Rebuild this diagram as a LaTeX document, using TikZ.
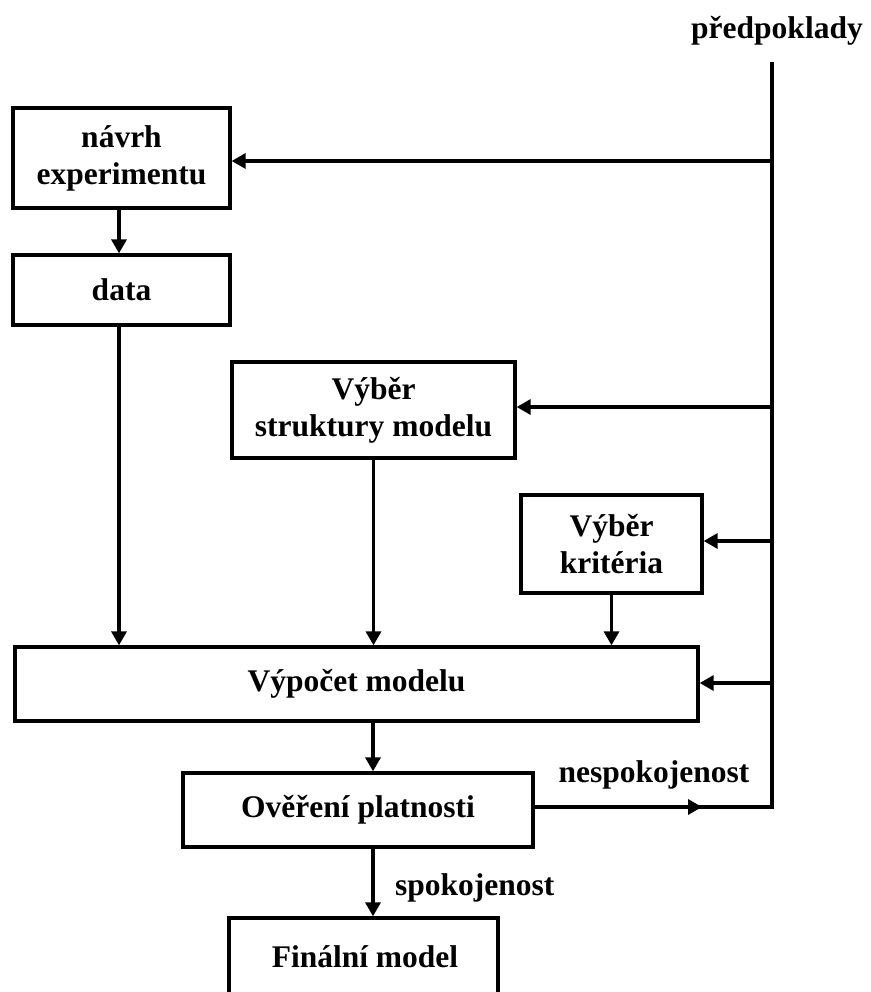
\documentclass[tikz,border=0pt]{standalone}
\usepackage{fontspec}
\setmainfont{Liberation Serif}
\usetikzlibrary{arrows.meta}
\begin{document}
\begin{tikzpicture}[x=1pt,y=-1pt,
  every node/.style={font=\bfseries\fontsize{31.5}{37}\selectfont},
  blok/.style={draw, line width=3.3pt, align=center, inner sep=0pt, fill=white},
  spoj/.style={line width=3.3pt},
  sip/.style={line width=3.3pt, -{Triangle[length=14pt,width=15pt]}},
  popis/.style={inner sep=0pt, anchor=base}]
\useasboundingbox (0,0) rectangle (870,992);
\clip (0,0) rectangle (870,992);
\fill[white] (0,0) rectangle (870,992);
% boxes
\node[blok, minimum width=217pt, minimum height=100pt] (navrh) at (121.5,158) {návrh\\experimentu};
\node[blok, minimum width=217pt, minimum height=70pt] (data) at (121.5,290) {data};
\node[blok, minimum width=283pt, minimum height=96pt] (strukt) at (373.5,410) {Výběr\\struktury modelu};
\node[blok, minimum width=181pt, minimum height=98pt] (krit) at (611.5,544) {Výběr\\kritéria};
\node[blok, minimum width=683pt, minimum height=74pt] (vypocet) at (356.5,684) {Výpočet modelu};
\node[blok, minimum width=350pt, minimum height=74pt] (overeni) at (358,810) {Ověření platnosti};
\node[blok, minimum width=269pt, minimum height=100pt, text depth=0pt] (final) at (363.5,968) {};
\node[popis] (finaltext) at (365,967) {Finální model};
% labels
\node[popis] (predp) at (777,39) {předpoklady};
\node[popis] (nesp) at (654,782) {nespokojenost};
\node[popis, anchor=base west] (spok) at (395,895) {spokojenost};
% bus coordinates
\coordinate (ptop) at (772,62);
\coordinate (p1) at (772,161);
\coordinate (p2) at (772,407);
\coordinate (p3) at (772,541);
\coordinate (p4) at (772,683);
\coordinate (pbot) at (772,807);
\coordinate (tip) at (702,807);
% bus line
\draw[spoj, line join=miter] (overeni.east |- pbot) -- (pbot) -- (ptop);
\draw[sip] (overeni.east |- pbot) -- (tip);
% branches
\draw[sip] (p1) -- (p1 -| navrh.east);
\draw[sip] (p2) -- (p2 -| strukt.east);
\draw[sip] (p3) -- (p3 -| krit.east);
\draw[sip] (p4) -- (p4 -| vypocet.east);
% vertical flows
\draw[sip] (navrh.south -| 119,0) -- (data.north -| 119,0);
\draw[sip] (data.south -| 119,0) -- (vypocet.north -| 119,0);
\draw[sip] (strukt.south) -- (strukt.south |- vypocet.north);
\draw[sip] (krit.south) -- (krit.south |- vypocet.north);
\draw[sip] (vypocet.south -| 373,0) -- (overeni.north -| 373,0);
\draw[sip] (overeni.south -| 373,0) -- (final.north -| 373,0);
\end{tikzpicture}
\end{document}
